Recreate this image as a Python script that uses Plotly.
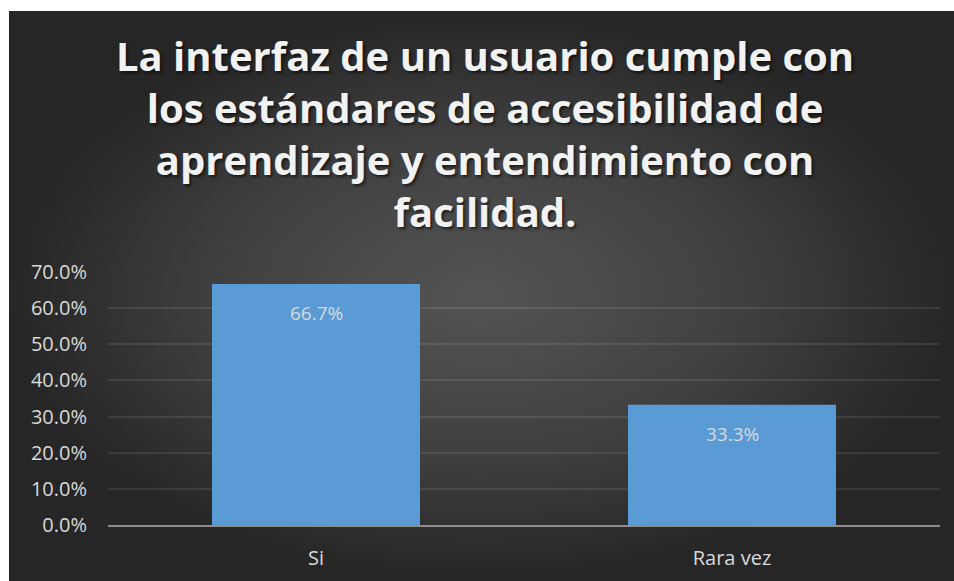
import plotly.graph_objects as go

categories = ['Si', 'Rara vez']
shares = [0.667, 0.333]
y_ticks = [0.0, 0.1, 0.2, 0.3, 0.4, 0.5, 0.6, 0.7]

title_lines = [
    'La interfaz de un usuario cumple con',
    'los estándares de accesibilidad de',
    'aprendizaje y entendimiento con',
    'facilidad.',
]

W, H = 954, 581
label_color = '#d9d9d9'
bar_color = '#5b9bd5'


def fx(px):
    return px / W


def fy(py):
    return 1 - py / H


fig = go.Figure()

# dark radial background of the chart area
fig.add_trace(go.Scatter(
    x=[0, 1, 1, 0, 0], y=[0, 0, 1, 1, 0],
    xaxis='x', yaxis='y', mode='lines', line=dict(width=0),
    fill='toself',
    fillgradient=dict(type='radial',
                      colorscale=[[0, '#545454'], [0.55, '#404040'], [1, '#262626']]),
    hoverinfo='skip', showlegend=False,
))

fig.add_trace(go.Bar(
    x=categories, y=shares, xaxis='x2', yaxis='y2',
    marker=dict(color=bar_color, line=dict(width=0)),
    width=0.5, showlegend=False,
))

for cat, val in zip(categories, shares):
    fig.add_annotation(
        x=cat, y=val, xref='x2', yref='y2',
        text=f'{val:.1%}', showarrow=False,
        yanchor='middle', yshift=-29,
        font=dict(family='Open Sans', size=19, color=label_color),
    )

fig.update_layout(
    width=W, height=H,
    margin=dict(l=0, r=0, t=0, b=0, pad=0),
    paper_bgcolor='white',
    plot_bgcolor='rgba(0,0,0,0)',
    title=dict(
        text='<br>'.join(title_lines),
        x=fx(485), xanchor='center',
        y=fy(71), yanchor='middle',
        font=dict(family='Open Sans', size=40, color='#f2f2f2', weight='bold',
                  shadow='2px 2px 3px rgba(0,0,0,0.6)'),
    ),
    xaxis=dict(domain=[fx(9), 1], range=[0, 1], visible=False, fixedrange=True,
               automargin=False),
    yaxis=dict(domain=[0, fy(11)], range=[0, 1], visible=False, fixedrange=True,
               automargin=False),
    xaxis2=dict(
        domain=[fx(108), fx(940)], anchor='y2', automargin=False,
        showgrid=False, showline=True, linecolor='#8c8c8c', linewidth=2,
        ticks='', ticklabelstandoff=14,
        tickfont=dict(family='Open Sans', size=20, color=label_color),
    ),
    yaxis2=dict(
        domain=[fy(525), fy(272)], anchor='x2', automargin=False,
        range=[0, 0.7], tickvals=y_ticks, tickformat='.1%',
        showgrid=True, gridcolor='rgba(255,255,255,0.09)', gridwidth=2,
        zeroline=False, showline=False, ticks='', ticklabelstandoff=20,
        tickfont=dict(family='Open Sans', size=20, color=label_color),
    ),
)

# drop the default page margin so the figure fills the window
fig.write_html('out.html', config={'displayModeBar': False},
               post_script="document.body.style.margin='0';document.body.style.overflow='hidden';")
